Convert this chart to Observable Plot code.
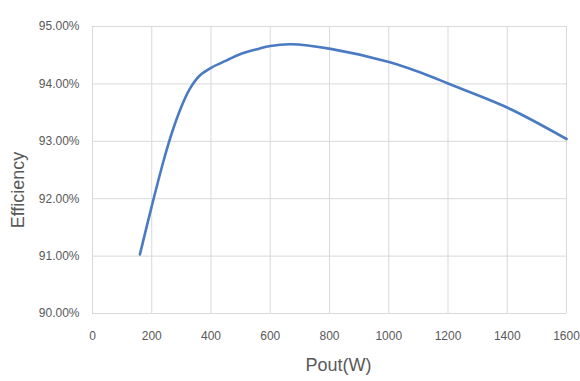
<!DOCTYPE html>
<html>
<head>
<meta charset="utf-8">
<script src="https://cdn.jsdelivr.net/npm/d3@7"></script>
<script src="https://cdn.jsdelivr.net/npm/@observablehq/plot@0.6"></script>
<style>
  html, body { margin: 0; padding: 0; background: #fff; }
</style>
</head>
<body>
<div id="chart"></div>
<script>
const pout = [160, 200, 242, 270, 299, 328, 363, 400, 453, 500, 560, 600, 669, 804, 1001, 1142, 1198, 1403, 1600];
const efficiency = [0.9103, 0.9187, 0.9270, 0.9318, 0.9359, 0.9391, 0.9415, 0.9428, 0.9441, 0.9452, 0.9461, 0.9466, 0.9469, 0.9461, 0.9438, 0.9413, 0.9401, 0.9358, 0.9304];
const xTicks = [0, 200, 400, 600, 800, 1000, 1200, 1400, 1600];
const yTicks = [0.90, 0.91, 0.92, 0.93, 0.94, 0.95];
const xTitle = "Pout(W)";
const yTitle = "Efficiency";

const data = pout.map((p, i) => ({pout: p, eff: efficiency[i]}));
const font = "'Liberation Sans', 'DejaVu Sans', sans-serif";
const gray = "#595959";

const chart = Plot.plot({
  width: 580,
  height: 381,
  marginLeft: 92,
  marginRight: 14,
  marginTop: 26,
  marginBottom: 68,
  style: {fontFamily: font, fontSize: "12px", color: gray, background: "#fff"},
  x: {domain: [0, 1600]},
  y: {domain: [0.90, 0.95]},
  marks: [
    Plot.gridX(xTicks, {stroke: "#d9d9d9", strokeOpacity: 1, strokeWidth: 1}),
    Plot.gridY(yTicks, {stroke: "#d9d9d9", strokeOpacity: 1, strokeWidth: 1}),
    Plot.axisX({ticks: xTicks, tickSize: 0, tickPadding: 18, fontSize: 12, fill: gray,
      tickFormat: d => String(d), label: null}),
    Plot.axisY({ticks: yTicks, tickSize: 0, tickPadding: 13, fontSize: 12, fill: gray,
      tickFormat: d => (d * 100).toFixed(2) + "%", label: null}),
    Plot.text([xTitle], {frameAnchor: "bottom", dy: 57, dx: 9, fontSize: 18, fill: gray, text: d => d}),
    Plot.text([yTitle], {frameAnchor: "left", textAnchor: "middle", rotate: -90, dx: -74, dy: 20, fontSize: 18, fill: gray, text: d => d}),
    Plot.line(data, {x: "pout", y: "eff", stroke: "#4a7bc2", strokeWidth: 2.6, curve: "catmull-rom"})
  ]
});
document.getElementById("chart").appendChild(chart);
</script>
</body>
</html>
